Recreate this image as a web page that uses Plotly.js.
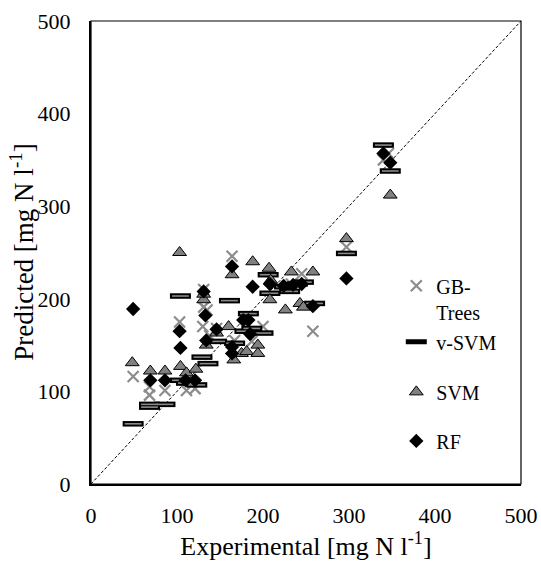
<!DOCTYPE html>
<html>
<head>
<meta charset="utf-8">
<script src="https://cdn.plot.ly/plotly-3.0.1.min.js"></script>
<style>
  html, body { margin: 0; padding: 0; background: #fff; }
  #chart { width: 541px; height: 563px; }
</style>
</head>
<body>
<div id="chart"></div>
<script>
// Experimental vs predicted nitrogen concentration [mg N l-1] per model

const gbX = [49, 68, 68, 86, 103, 111, 121, 131, 131, 135, 130, 138, 146, 164, 167, 183, 187, 200, 208, 233, 245, 258, 297, 340, 346];
const gbY = [116, 105, 96, 101, 175, 101, 103, 210, 191, 188, 170, 160, 168, 246, 155, 172, 154, 170, 222, 216, 227, 165, 256, 350, 357];

const vsvmX = [49, 68, 68, 86, 104, 104, 111, 123, 129, 136, 146, 161, 167, 179, 183, 187, 200, 206, 208, 225, 231, 240, 247, 260, 297, 340, 348];
const vsvmY = [65, 86, 83, 86, 203, 112, 109, 107, 137, 130, 154, 198, 152, 165, 184, 168, 163, 226, 206, 213, 208, 216, 218, 195, 249, 366, 338];

const svmX = [48, 69, 86, 103, 104, 111, 122, 131, 131, 134, 146, 160, 164, 166, 175, 181, 188, 194, 194, 207, 208, 209, 226, 233, 243, 247, 258, 297, 348];
const svmY = [131, 122, 122, 250, 127, 120, 124, 199, 205, 150, 163, 170, 226, 134, 141, 143, 240, 150, 141, 233, 199, 220, 188, 229, 195, 191, 229, 265, 312];

const rfX = [49, 69, 86, 103, 104, 110, 121, 131, 133, 134, 146, 164, 164, 164, 177, 183, 185, 188, 208, 224, 235, 245, 258, 297, 340, 348];
const rfY = [189, 112, 112, 165, 147, 112, 112, 208, 182, 155, 167, 141, 148, 235, 177, 177, 162, 213, 216, 214, 215, 216, 192, 222, 357, 347];

const identity = [0, 500];
const tickVals = [0, 100, 200, 300, 400, 500];

const serif = 'Times New Roman';
const txt = { family: serif, size: 20, color: '#000' };
const tickTxt = { family: serif, size: 22, color: '#000' };
const xTitleTxt = { family: serif, size: 26, color: '#000' };
const yTitleTxt = { family: serif, size: 27, color: '#000' };

const traces = [
  {
    x: identity, y: identity, mode: 'lines', showlegend: false, hoverinfo: 'skip',
    line: { color: '#000', width: 1, dash: '3px,2px' }
  },
  {
    name: 'GB-<br>Trees', x: gbX, y: gbY, mode: 'markers', legend: 'legend',
    marker: { symbol: 'x-thin-open', size: 11, color: '#8c8c8c', line: { color: '#8c8c8c', width: 2.2 } }
  },
  {
    name: 'v-SVM', x: vsvmX, y: vsvmY, mode: 'markers', legend: 'legend2', legendgroup: 'vsvm',
    marker: { symbol: 'line-ew-open', size: 15, color: '#000', line: { color: '#000', width: 5.5 } }
  },
  {
    name: 'v-SVM', x: vsvmX, y: vsvmY, mode: 'markers', legend: 'legend2', legendgroup: 'vsvm', showlegend: false,
    marker: { symbol: 'line-ew-open', size: 12, color: '#8a8a8a', line: { color: '#8a8a8a', width: 1.6 } }
  },
  {
    name: 'SVM', x: svmX, y: svmY, mode: 'markers', legend: 'legend3',
    marker: { symbol: 'triangle-up', size: 12, color: '#808080', line: { color: '#000', width: 1 } }
  },
  {
    name: 'RF', x: rfX, y: rfY, mode: 'markers', legend: 'legend4',
    marker: { symbol: 'diamond', size: 11, color: '#000', line: { color: '#000', width: 0 } }
  }
];

function legendAt(y) {
  return {
    x: 0.71, xanchor: 'left', y: y, yanchor: 'middle',
    bgcolor: 'rgba(0,0,0,0)', borderwidth: 0, valign: 'top',
    font: txt
  };
}

const layout = {
  width: 541, height: 563,
  margin: { l: 91, r: 20, t: 21, b: 79 },
  paper_bgcolor: '#fff', plot_bgcolor: '#fff',
  font: txt,
  xaxis: {
    range: [0, 500], tickvals: tickVals, showgrid: false, zeroline: false,
    showline: true, linecolor: '#000', linewidth: 2, ticks: '',
    ticklabelstandoff: 11, tickfont: tickTxt,
    title: { text: 'Experimental [mg N l<sup>-1</sup>]', font: xTitleTxt, standoff: 7 }
  },
  yaxis: {
    range: [0, 500], tickvals: tickVals, showgrid: false, zeroline: false,
    showline: true, linecolor: '#000', linewidth: 2, ticks: '',
    ticklabelstandoff: 14, tickfont: tickTxt
  },
  annotations: [{
    text: 'Predicted [mg N l<sup>-1</sup>]', textangle: -90, showarrow: false,
    xref: 'paper', yref: 'paper', x: -0.162, y: 0.50,
    xanchor: 'center', yanchor: 'middle', font: yTitleTxt
  }],
  shapes: [{
    type: 'rect', xref: 'paper', yref: 'paper', x0: 0, x1: 1, y0: 0, y1: 1,
    line: { color: '#000', width: 1.2 }
  }],
  legend: legendAt(0.40),
  legend2: legendAt(0.307),
  legend3: legendAt(0.199),
  legend4: legendAt(0.093),
  showlegend: true
};

Plotly.newPlot('chart', traces, layout, { staticPlot: true, displayModeBar: false });
</script>
</body>
</html>
